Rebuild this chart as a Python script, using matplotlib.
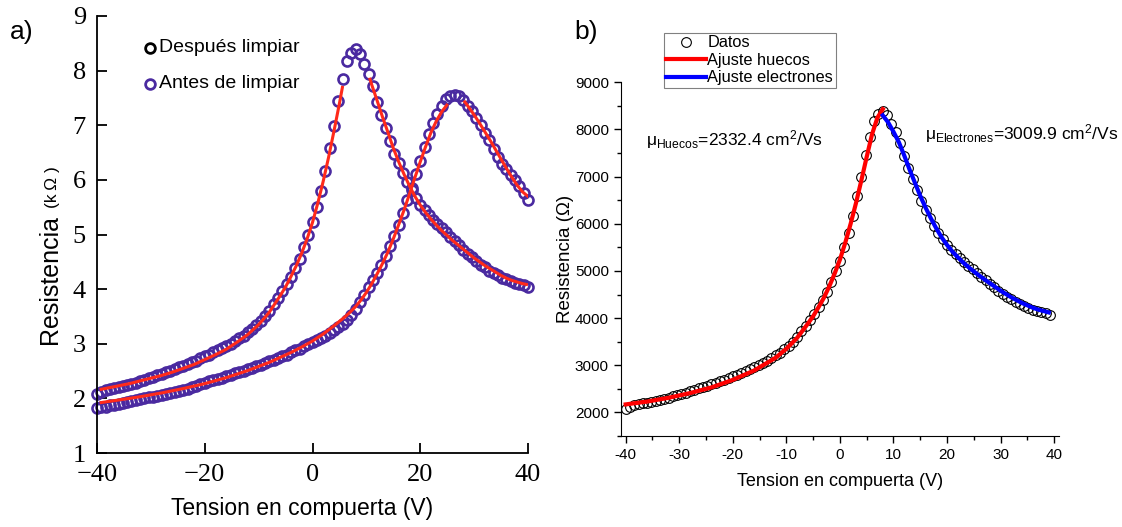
import numpy as np
import matplotlib
matplotlib.use("Agg")
import matplotlib.pyplot as plt
from matplotlib.lines import Line2D
from matplotlib.ticker import MultipleLocator, FuncFormatter

SANS = "Liberation Sans"
SERIF = "Liberation Serif"
plt.rcParams["font.family"] = [SANS, "DejaVu Sans"]
plt.rcParams["mathtext.fontset"] = "custom"
plt.rcParams["mathtext.rm"] = SANS
plt.rcParams["mathtext.it"] = SANS + ":italic"

# Gate-voltage sweep (V)
V_START, V_STOP, V_STEP = -40.0, 40.0, 0.8
gate_v = np.round(np.arange(V_START, V_STOP + V_STEP / 2, V_STEP), 1)

# Resistance after cleaning (kOhm), one value per sweep point
r_despues_k = [
    2.08, 2.12, 2.15, 2.17, 2.19, 2.21, 2.22, 2.24, 2.26, 2.28,
    2.31, 2.34, 2.37, 2.40, 2.42, 2.45, 2.48, 2.51, 2.54, 2.57,
    2.60, 2.63, 2.66, 2.69, 2.73, 2.77, 2.80, 2.84, 2.88, 2.92,
    2.96, 3.00, 3.05, 3.10, 3.15, 3.21, 3.27, 3.34, 3.41, 3.50,
    3.60, 3.72, 3.84, 3.96, 4.09, 4.23, 4.39, 4.56, 4.77, 4.99,
    5.22, 5.50, 5.80, 6.17, 6.58, 6.99, 7.45, 7.84, 8.18, 8.33,
    8.40, 8.30, 8.12, 7.94, 7.72, 7.43, 7.18, 6.95, 6.71, 6.48,
    6.30, 6.13, 5.96, 5.81, 5.67, 5.54, 5.44, 5.35, 5.27, 5.19,
    5.11, 5.04, 4.96, 4.88, 4.80, 4.72, 4.65, 4.58, 4.51, 4.45,
    4.40, 4.34, 4.29, 4.25, 4.21, 4.18, 4.15, 4.12, 4.10, 4.07,
    4.04,
]

# Resistance before cleaning (kOhm)
r_antes_k = [
    1.82, 1.84, 1.85, 1.87, 1.88, 1.90, 1.91, 1.93, 1.95, 1.97,
    1.98, 2.00, 2.02, 2.03, 2.05, 2.06, 2.08, 2.10, 2.12, 2.14,
    2.16, 2.18, 2.21, 2.23, 2.26, 2.28, 2.31, 2.33, 2.36, 2.38,
    2.41, 2.43, 2.46, 2.48, 2.51, 2.53, 2.56, 2.59, 2.62, 2.65,
    2.68, 2.71, 2.74, 2.77, 2.80, 2.84, 2.88, 2.91, 2.95, 2.99,
    3.03, 3.07, 3.11, 3.15, 3.20, 3.25, 3.30, 3.36, 3.44, 3.53,
    3.64, 3.77, 3.90, 4.03, 4.16, 4.30, 4.45, 4.61, 4.79, 4.98,
    5.18, 5.40, 5.63, 5.86, 6.10, 6.35, 6.60, 6.84, 7.04, 7.21,
    7.36, 7.48, 7.54, 7.56, 7.54, 7.46, 7.36, 7.26, 7.14, 7.00,
    6.86, 6.73, 6.56, 6.41, 6.29, 6.19, 6.09, 5.99, 5.88, 5.76,
    5.64,
]

# Fitted curves, panel a (kOhm)
fit_desp_h_v = [-39.5, -38, -36, -34, -32, -30, -28, -26, -24, -22, -20, -18, -16,
                -14, -12, -10, -9, -8, -7, -6, -5, -4, -3, -2, -1, 0, 1, 2, 3,
                4, 5, 5.6]
fit_desp_h_r = [2.16, 2.19, 2.23, 2.27, 2.32, 2.37, 2.42, 2.48, 2.55, 2.62, 2.71,
                2.80, 2.90, 3.03, 3.17, 3.35, 3.46, 3.58, 3.73, 3.88, 4.04, 4.23,
                4.43, 4.66, 4.92, 5.22, 5.58, 5.98, 6.42, 6.90, 7.40, 7.72]
fit_desp_e_v = [10.6, 11, 12, 13, 14, 15, 16, 17, 18, 19, 20, 21, 22, 23, 24, 25,
                26, 27, 28, 29, 30, 31, 32, 33, 34, 35, 36, 37, 38, 39, 40]
fit_desp_e_r = [7.87, 7.74, 7.45, 7.15, 6.87, 6.58, 6.33, 6.10, 5.89, 5.70, 5.54,
                5.40, 5.28, 5.17, 5.07, 4.98, 4.89, 4.81, 4.73, 4.65, 4.57, 4.50,
                4.43, 4.37, 4.31, 4.25, 4.20, 4.16, 4.13, 4.10, 4.08]
fit_ant_h_v = [-39.5, -36, -32, -28, -24, -20, -16, -12, -8, -6, -4, -2, 0, 2, 4,
               6, 7, 8, 9, 10, 11, 12, 13, 14, 15, 16, 17, 18, 19, 20, 21, 22,
               23, 24, 25.1]
fit_ant_h_r = [1.92, 1.97, 2.03, 2.10, 2.18, 2.27, 2.38, 2.51, 2.66, 2.75, 2.84,
               2.94, 3.05, 3.18, 3.33, 3.49, 3.58, 3.68, 3.80, 3.94, 4.10, 4.28,
               4.47, 4.68, 4.92, 5.18, 5.45, 5.74, 6.04, 6.33, 6.61, 6.87, 7.08,
               7.25, 7.39]
fit_ant_e_v = [28.1, 29, 30, 31, 32, 33, 34, 35, 36, 37, 38, 39, 40.2]
fit_ant_e_r = [7.45, 7.33, 7.19, 7.04, 6.88, 6.72, 6.55, 6.38, 6.21, 6.05, 5.90,
               5.78, 5.68]

# Panel b: data in Ohm and the two fits
datos_v = gate_v[:-1]
datos_ohm = np.array(r_despues_k[:-1]) * 1000.0
fit_huecos_v = [-40, -36, -32, -28, -24, -20, -16, -12, -10, -8, -6, -5, -4, -3,
                -2, -1, 0, 1, 2, 3, 4, 5, 6, 7, 8]
fit_huecos_ohm = [2170, 2230, 2310, 2410, 2530, 2690, 2890, 3160, 3350, 3580,
                  3880, 4040, 4230, 4430, 4670, 4940, 5240, 5600, 6000, 6440,
                  6920, 7420, 7900, 8250, 8430]
fit_elec_v = [8, 9, 10, 11, 12, 13, 14, 15, 16, 17, 18, 19, 20, 21, 22, 23, 24,
              25, 26, 27, 28, 29, 30, 31, 32, 33, 34, 35, 36, 37, 38, 39]
fit_elec_ohm = [8300, 8150, 7950, 7730, 7450, 7150, 6870, 6590, 6340, 6110,
                5900, 5710, 5550, 5410, 5290, 5180, 5080, 4990, 4900, 4820,
                4740, 4660, 4580, 4510, 4440, 4380, 4320, 4270, 4220, 4180,
                4150, 4120]

mu_huecos = 2332.4
mu_electrones = 3009.9

PURPLE = "#4a2aa0"
RED_A = "#ff2a1a"
W, H = 1122, 527


def fx(px):
    return px / W


def fy(py):
    return 1 - py / H


fig = plt.figure(figsize=(W / 100, H / 100), dpi=100)

# ---------------- panel a ----------------
axA = fig.add_axes([fx(97), fy(453), (528 - 97) / W, (453 - 16) / H])
for series in (r_despues_k, r_antes_k):
    axA.plot(gate_v, series, ls="none", marker="o", ms=7.2, mew=1.9,
             mec=PURPLE, mfc="none", clip_on=False, zorder=2)
for fv, fr in ((fit_desp_h_v, fit_desp_h_r), (fit_desp_e_v, fit_desp_e_r),
               (fit_ant_h_v, fit_ant_h_r), (fit_ant_e_v, fit_ant_e_r)):
    axA.plot(fv, fr, color=RED_A, lw=2.2, zorder=3, solid_capstyle="butt")

axA.set_xlim(-40, 40)
axA.set_ylim(1, 9)
axA.spines["top"].set_visible(False)
axA.spines["right"].set_visible(False)
for s in ("left", "bottom"):
    axA.spines[s].set_linewidth(1.3)
axA.set_xticks([-40, -20, 0, 20, 40])
axA.set_yticks(range(1, 10))
axA.tick_params(direction="in", length=7, width=1.3, labelsize=19, pad=8)
for lab in axA.get_xticklabels() + axA.get_yticklabels():
    lab.set_family(SERIF)

fig.text(fx(302), fy(508), "Tension en compuerta (V)", fontsize=16.5,
         ha="center", va="center")
fig.text(fx(50), fy(280), "Resistencia", rotation=90, fontsize=18,
         ha="center", va="center")
fig.text(fx(52), fy(187), "(k\u2009\u03a9 )", rotation=90, fontsize=12.5,
         ha="center", va="center", family=[SANS, "DejaVu Sans"])

for ypx, col, txt in ((48, "black", "Después limpiar"),
                      (84, PURPLE, "Antes de limpiar")):
    fig.add_artist(Line2D([fx(150)], [fy(ypx)], transform=fig.transFigure,
                          marker="o", ms=7.0, mew=2.0, mec=col, mfc="none",
                          ls="none"))
    fig.text(fx(159), fy(ypx), txt, fontsize=14, ha="left", va="center")

fig.text(fx(22), fy(32), "a)", fontsize=19, ha="center", va="center")

# ---------------- panel b ----------------
axB = fig.add_axes([fx(620.7), fy(436), (1059 - 620.7) / W, (436 - 82.3) / H])
axB.plot(datos_v, datos_ohm, ls="none", marker="o", ms=7.0, mew=0.8,
         mec="black", mfc="none", clip_on=False, label="Datos", zorder=2)
axB.plot(fit_huecos_v, fit_huecos_ohm, color="#ff0000", lw=3.0,
         label="Ajuste huecos", zorder=3)
axB.plot(fit_elec_v, fit_elec_ohm, color="#0000ff", lw=3.0,
         label="Ajuste electrones", zorder=3)

axB.set_xlim(-40.93, 40.9)
axB.set_ylim(1500, 9000)
axB.spines["top"].set_visible(False)
axB.spines["right"].set_visible(False)
axB.xaxis.set_major_locator(MultipleLocator(10))
axB.xaxis.set_minor_locator(MultipleLocator(5))
axB.yaxis.set_major_locator(MultipleLocator(1000))
axB.yaxis.set_minor_locator(MultipleLocator(500))
axB.set_yticks(range(2000, 9001, 1000))
axB.xaxis.set_major_formatter(FuncFormatter(lambda v, p: f"{v:.0f}"))
axB.tick_params(which="major", direction="out", length=5, width=1, labelsize=11)
axB.tick_params(which="minor", direction="out", length=3, width=1)
axB.set_xlabel("Tension en compuerta (V)", fontsize=13, labelpad=8)
axB.set_ylabel("Resistencia (\u03a9)", fontsize=13.5, labelpad=1)

leg = axB.legend(loc="upper left", bbox_to_anchor=(fx(664), fy(33)),
                 bbox_transform=fig.transFigure, fancybox=False,
                 edgecolor="#808080", framealpha=1, fontsize=11.8,
                 borderpad=0.15, handlelength=2.4, handletextpad=0.1,
                 labelspacing=0.15, borderaxespad=0)
leg.get_frame().set_linewidth(0.8)

fig.text(fx(646), fy(140),
         "$\\mathregular{\u03bc_{Huecos}}$=" + f"{mu_huecos:.1f}" +
         " cm$\\mathregular{^2}$/Vs", fontsize=12.5, ha="left", va="center")
fig.text(fx(925), fy(134),
         "$\\mathregular{\u03bc_{Electrones}}$=" + f"{mu_electrones:.1f}" +
         " cm$\\mathregular{^2}$/Vs", fontsize=12.5, ha="left", va="center")

fig.text(fx(586), fy(32), "b)", fontsize=19, ha="center", va="center")

fig.savefig("out.png", dpi=100)
